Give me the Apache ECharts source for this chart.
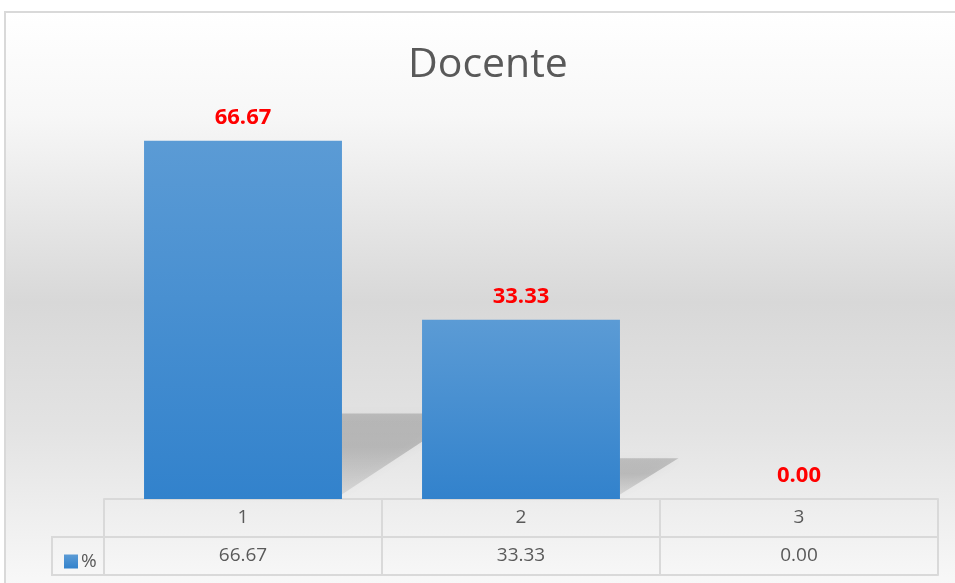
<!DOCTYPE html>
<html>
<head>
<meta charset="utf-8">
<script src="https://cdn.jsdelivr.net/npm/echarts@6/dist/echarts.min.js"></script>
<style>
  html, body { margin: 0; padding: 0; background: #fff; }
  #chart { width: 955px; height: 583px; }
</style>
</head>
<body>
<div id="chart"></div>
<script>
// chart data
var categories = ['1', '2', '3'];
var percentValues = [66.67, 33.33, 0.00];
var valueLabels = ['66.67', '33.33', '0.00'];
var seriesName = '%';
var chartTitle = 'Docente';

var textGray = '#595959';
var lineGray = '#d9d9d9';

var myChart = echarts.init(document.getElementById('chart'));

// perspective shadow behind each bar, drawn from the bar's own coordinates
function renderShadow(params, api) {
  var idx = api.value(0);
  var v = api.value(1);
  var base = api.coord([idx, 0]);
  var top = api.coord([idx, v]);
  var band = api.size([1, 0])[0];
  var w = band * 0.712;
  var x0 = base[0] - w / 2;
  var x1 = base[0] + w / 2;
  var h = base[1] - top[1];
  var dy = h * 0.25;
  var dx = h * 0.36;
  if (h <= 0) return null;
  return {
    type: 'polygon',
    shape: {
      points: [[x0, base[1] - 2], [x1 - 4, base[1] - 2], [x1 + dx - 6, base[1] - dy + 4], [x0 + dx, base[1] - dy + 4]]
    },
    style: {
      fill: {
        type: 'linear', x: 0, y: 0, x2: 0, y2: 1,
        colorStops: [
          { offset: 0, color: 'rgba(0,0,0,0.17)' },
          { offset: 0.4, color: 'rgba(0,0,0,0.18)' },
          { offset: 1, color: 'rgba(0,0,0,0.08)' }
        ]
      },
      shadowBlur: 10,
      shadowColor: 'rgba(0,0,0,0.18)'
    }
  };
}

var option = {
  animation: false,
  title: {
    text: chartTitle,
    left: 403,
    top: 40,
    textStyle: { fontFamily: 'Open Sans', fontSize: 41, fontWeight: 'normal', color: textGray }
  },
  legend: {
    data: [seriesName],
    left: 59,
    top: 547,
    icon: 'rect',
    itemWidth: 14,
    itemHeight: 14,
    itemGap: 4,
    textStyle: { fontFamily: 'Open Sans', fontSize: 19, color: textGray, padding: [0, 0, 0, -2] }
  },
  graphic: [
    {
      type: 'rect',
      z: -10,
      shape: { x: 5, y: 12, width: 960, height: 580 },
      style: {
        stroke: lineGray,
        lineWidth: 2,
        fill: {
          type: 'linear', x: 0, y: 0, x2: 0, y2: 1,
          colorStops: [
            { offset: 0, color: '#ffffff' },
            { offset: 0.18, color: '#f7f7f7' },
            { offset: 0.5, color: '#d8d8d8' },
            { offset: 0.72, color: '#e3e3e3' },
            { offset: 1, color: '#f9f9f9' }
          ]
        }
      }
    },
    {
      type: 'rect',
      shape: { x: 52, y: 537, width: 52, height: 38 },
      style: { fill: 'transparent', stroke: lineGray, lineWidth: 2 }
    }
  ],
  grid: { left: 104, right: 17, top: 69, bottom: 84 },
  xAxis: [
    {
      type: 'category',
      data: categories,
      position: 'bottom',
      axisLine: { show: true, lineStyle: { color: lineGray, width: 2 } },
      axisTick: { show: true, interval: 0, length: 76, lineStyle: { color: lineGray, width: 2 } },
      axisLabel: { margin: 9, fontFamily: 'Open Sans', fontSize: 19, color: textGray }
    },
    {
      type: 'category',
      data: valueLabels,
      position: 'bottom',
      offset: 38,
      axisLine: { show: true, lineStyle: { color: lineGray, width: 2 } },
      axisTick: { show: false },
      axisLabel: { margin: 9, fontFamily: 'Open Sans', fontSize: 19, color: textGray }
    },
    {
      type: 'category',
      data: categories,
      position: 'bottom',
      offset: 76,
      axisLine: { show: true, lineStyle: { color: lineGray, width: 2 } },
      axisTick: { show: false },
      axisLabel: { show: false }
    }
  ],
  yAxis: {
    type: 'value',
    min: 0,
    max: 80,
    show: false,
    splitLine: { show: false }
  },
  series: [
    {
      type: 'custom',
      name: 'shadow',
      z: 1,
      silent: true,
      renderItem: renderShadow,
      data: percentValues.map(function (v, i) { return [i, v]; })
    },
    {
      type: 'bar',
      name: seriesName,
      z: 2,
      barWidth: '71.2%',
      data: percentValues,
      itemStyle: {
        color: {
          type: 'linear', x: 0, y: 0, x2: 0, y2: 1,
          colorStops: [
            { offset: 0, color: '#5b9bd5' },
            { offset: 1, color: '#3282cc' }
          ]
        }
      },
      label: {
        show: true,
        position: 'top',
        distance: 12,
        formatter: function (p) { return p.value.toFixed(2); },
        fontFamily: 'Open Sans',
        fontSize: 22,
        fontWeight: 'bold',
        color: '#ff0000'
      }
    }
  ]
};

myChart.setOption(option);
</script>
</body>
</html>
